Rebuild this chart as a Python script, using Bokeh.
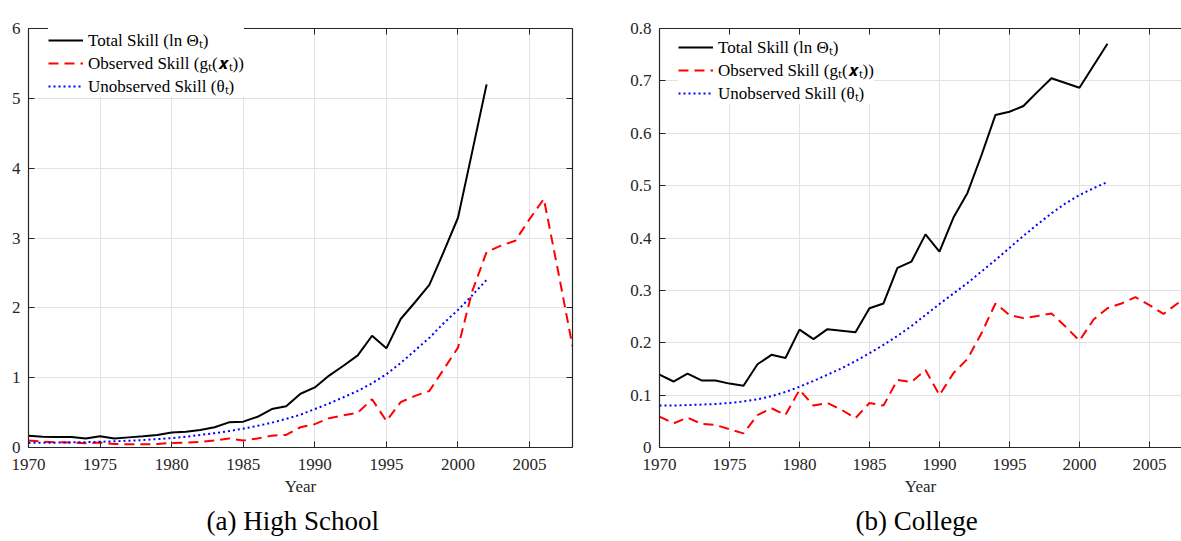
from bokeh.plotting import figure
from bokeh.models import FixedTicker, LinearAxis, Legend, LegendItem, Title, Range1d
from bokeh.layouts import row
from bokeh.embed import file_html
from bokeh.resources import INLINE

# ---------------- data ----------------
years_short = list(range(1970, 2003))   # 1970..2002
years_long = list(range(1970, 2009))    # 1970..2008

hs_total = [0.17, 0.155, 0.15, 0.15, 0.13, 0.16, 0.13, 0.145, 0.16, 0.18,
            0.215, 0.225, 0.25, 0.29, 0.36, 0.37, 0.44, 0.55, 0.59, 0.77,
            0.86, 1.03, 1.17, 1.32, 1.60, 1.42, 1.84, 2.08, 2.33, 2.80,
            3.29, 4.24, 5.20]
hs_observed = [0.10, 0.085, 0.075, 0.07, 0.06, 0.07, 0.05, 0.045, 0.045, 0.05,
               0.065, 0.07, 0.08, 0.10, 0.13, 0.10, 0.13, 0.17, 0.18, 0.29,
               0.335, 0.42, 0.46, 0.50, 0.69, 0.38, 0.65, 0.74, 0.81, 1.12,
               1.43, 2.24, 2.80, 2.89, 2.96, 3.27, 3.56, 2.52, 1.45]
hs_unobserved = [0.066, 0.068, 0.07, 0.073, 0.077, 0.082, 0.089, 0.097, 0.107, 0.12,
                 0.135, 0.155, 0.18, 0.205, 0.235, 0.27, 0.31, 0.355, 0.41, 0.47,
                 0.55, 0.63, 0.72, 0.81, 0.92, 1.05, 1.21, 1.39, 1.57, 1.78,
                 1.97, 2.18, 2.40]

col_total = [0.139, 0.126, 0.141, 0.128, 0.128, 0.122, 0.118, 0.159, 0.177, 0.171,
             0.225, 0.207, 0.226, 0.223, 0.220, 0.266, 0.275, 0.343, 0.355, 0.407,
             0.374, 0.439, 0.486, 0.558, 0.635, 0.641, 0.652, 0.679, 0.705, 0.696,
             0.687, 0.729, 0.771]
col_observed = [0.059, 0.046, 0.057, 0.045, 0.043, 0.035, 0.027, 0.062, 0.075, 0.062,
                0.110, 0.080, 0.085, 0.072, 0.056, 0.085, 0.080, 0.129, 0.125, 0.148,
                0.100, 0.142, 0.169, 0.218, 0.275, 0.253, 0.247, 0.251, 0.256, 0.231,
                0.204, 0.244, 0.266, 0.275, 0.287, 0.272, 0.255, 0.275, 0.285]
col_unobserved = [0.080, 0.080, 0.081, 0.082, 0.083, 0.085, 0.088, 0.092, 0.098, 0.106,
                  0.116, 0.127, 0.139, 0.151, 0.165, 0.180, 0.196, 0.213, 0.232, 0.253,
                  0.274, 0.294, 0.314, 0.336, 0.358, 0.381, 0.404, 0.426, 0.447, 0.466,
                  0.482, 0.495, 0.507]

x_ticks = [1970, 1975, 1980, 1985, 1990, 1995, 2000, 2005]
hs_y_ticks = [0, 1, 2, 3, 4, 5, 6]
col_y_ticks = [0, 0.1, 0.2, 0.3, 0.4, 0.5, 0.6, 0.7, 0.8]
col_y_labels = ["0", "0.1", "0.2", "0.3", "0.4", "0.5", "0.6", "0.7", "0.8"]

legend_labels = ["Total Skill (ln Θₜ)", "Observed Skill (gₜ(𝒙ₜ))", "Unobserved Skill (θₜ)"]
captions = ["(a) High School", "(b) College"]

FONT = "'Liberation Serif', serif"
AX = "#262626"
GRID = "#e2e2e2"


def style_axis(ax, fs, standoff, labels=True):
    ax.axis_line_color = AX
    ax.axis_line_width = 1.2
    ax.major_tick_line_color = AX
    ax.major_tick_in = 6
    ax.major_tick_out = 0
    ax.minor_tick_line_color = None
    ax.major_label_text_font = FONT
    if labels:
        ax.major_label_text_color = AX
        ax.major_label_text_font_size = fs
        ax.major_label_standoff = standoff
    else:
        ax.major_label_text_color = None
        ax.major_label_text_font_size = "1px"
        ax.major_label_standoff = 0


def make_panel(width, height, x_end, y_end, y_ticks, b_left, b_right, b_top, b_bottom,
               total, observed, unobserved, fs, leg_loc, caption, cap_offset, right_axis,
               y_overrides=None):
    p = figure(width=width, height=height, output_backend="svg", toolbar_location=None,
               x_range=Range1d(1970, x_end), y_range=Range1d(0, y_end),
               min_border_left=b_left, min_border_right=b_right, min_border_top=b_top,
               min_border_bottom=b_bottom)
    p.outline_line_color = None
    p.background_fill_color = "white"
    p.border_fill_color = "white"

    p.xaxis.ticker = FixedTicker(ticks=x_ticks)
    p.yaxis.ticker = FixedTicker(ticks=y_ticks)
    style_axis(p.xaxis[0], fs, 11)
    style_axis(p.yaxis[0], fs, 8)
    if y_overrides:
        p.yaxis.major_label_overrides = y_overrides
    p.xaxis.axis_label = "Year"
    p.xaxis.axis_label_text_font = FONT
    p.xaxis.axis_label_text_font_style = "normal"
    p.xaxis.axis_label_text_font_size = fs
    p.xaxis.axis_label_text_color = AX
    p.xaxis.axis_label_standoff = 4

    p.xgrid.grid_line_color = GRID
    p.ygrid.grid_line_color = GRID

    top = LinearAxis(ticker=FixedTicker(ticks=x_ticks))
    style_axis(top, fs, 0, labels=False)
    p.add_layout(top, "above")
    if right_axis:
        rt = LinearAxis(ticker=FixedTicker(ticks=y_ticks))
        style_axis(rt, fs, 0, labels=False)
        p.add_layout(rt, "right")

    r1 = p.line(years_short, total, line_color="black", line_width=2)
    r2 = p.line(years_long, observed, line_color="#ff0000", line_width=2, line_dash="10 6")
    r3 = p.line(years_short, unobserved, line_color="#0000ff", line_width=2, line_dash="2 3")

    leg = Legend(items=[LegendItem(label=legend_labels[0], renderers=[r1]),
                        LegendItem(label=legend_labels[1], renderers=[r2]),
                        LegendItem(label=legend_labels[2], renderers=[r3])],
                 location=leg_loc, padding=0, spacing=0, margin=0,
                 glyph_width=35, glyph_height=20, label_height=20, label_standoff=5,
                 border_line_color=None, background_fill_color="white", background_fill_alpha=1,
                 label_text_font=FONT, label_text_font_size="17px", label_text_color="black",
                 label_text_line_height=1.0)
    p.add_layout(leg)

    t = Title(text=caption, align="left", offset=cap_offset, text_font=FONT,
              text_font_size="27px", text_font_style="normal", text_color="black", standoff=11)
    p.add_layout(t, "below")
    return p


H = 541
left = make_panel(615, H, 2008, 6, hs_y_ticks, 28, 43, 18, 94,
                  hs_total, hs_observed, hs_unobserved, "17px", (20, 350), captions[0], 178, True)
right = make_panel(566, H, 2007.29, 0.8, col_y_ticks, 44, 0, 28, 93,
                   col_total, col_observed, col_unobserved, "17px", (19, 343), captions[1], 196, False,
                   y_overrides={t: l for t, l in zip(col_y_ticks, col_y_labels)})

layout = row(left, right)
open("out.html", "w").write(file_html(layout, INLINE))
